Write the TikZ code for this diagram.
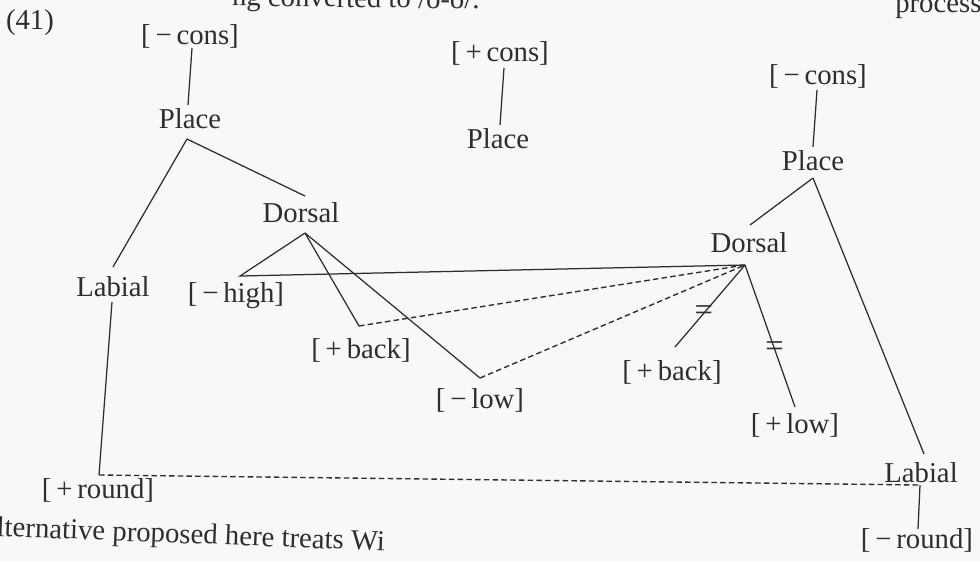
\documentclass[tikz,border=0pt]{standalone}
\usepackage{fontspec}
\setmainfont{Liberation Serif}
\definecolor{ink}{HTML}{2E2E2E}
\definecolor{paper}{HTML}{F8F8F6}
\begin{document}
\begin{tikzpicture}[x=0.4pt,y=-0.4pt,
  lbl/.style={inner sep=0pt,text=ink,font=\fontsize{11.5}{13}\selectfont},
  ln/.style={draw=ink,line width=0.5pt},
  dsh/.style={draw=ink,line width=0.55pt,dash pattern=on 2.2pt off 1.3pt},
  eqm/.style={inner sep=0pt,text=ink,font=\fontsize{13}{13}\selectfont}]
\useasboundingbox (0,0) rectangle (980,561);
\fill[paper] (0,0) rectangle (980,561);
% fragments of the surrounding page text
\node[lbl,anchor=base east,rotate=-0.8] (toptxt) at (480,9) {ng converted to /o-o/.};
\node[lbl,anchor=base east] (toptxt2) at (982,12) {process};
\node[lbl,anchor=base west,rotate=-2.2] (bottxt) at (-4,536) {lternative proposed here treats Wi};
% example number
\node[lbl] (n41) at (30,23) {(41)};
% left tree
\node[lbl] (lcons) at (190,36) {[\,−\,cons]};
\coordinate (lcons-b) at (192,48);
\node[lbl] (lplace) at (190,119) {Place};
\coordinate (lplace-t) at (188,105);
\coordinate (lplace-b) at (187,139);
\node[lbl] (ldors) at (301,213) {Dorsal};
\coordinate (ldors-t) at (305,196);
\coordinate (ldors-b) at (305,233);
\node[lbl] (llab) at (113,287) {Labial};
\coordinate (llab-t) at (113,267);
\coordinate (llab-b) at (112,302);
\node[lbl] (lhigh) at (236,296) {[\,−\,high]};
\coordinate (lhigh-v) at (240,276);
\node[lbl] (lback) at (361,350) {[\,+\,back]};
\coordinate (lback-v) at (359,326);
\node[lbl] (llow) at (480,400) {[\,−\,low]};
\coordinate (llow-v) at (480,378);
\node[lbl] (lround) at (98,490) {[\,+\,round]};
\coordinate (lround-v) at (99,475);
% middle tree
\node[lbl] (mcons) at (500,53) {[\,+\,cons]};
\coordinate (mcons-b) at (504,68);
\node[lbl] (mplace) at (498,139) {Place};
\coordinate (mplace-t) at (500,125);
% right tree
\node[lbl] (rcons) at (818,76) {[\,−\,cons]};
\coordinate (rcons-b) at (817,90);
\node[lbl] (rplace) at (813,161) {Place};
\coordinate (rplace-t) at (813,147);
\coordinate (rplace-b) at (813,178);
\node[lbl] (rdors) at (749,243) {Dorsal};
\coordinate (rdors-t) at (750,225);
\coordinate (rdors-b) at (745,265);
\node[lbl] (rback) at (672,372) {[\,+\,back]};
\coordinate (rback-v) at (675,347);
\node[lbl] (rlow) at (795,425) {[\,+\,low]};
\coordinate (rlow-v) at (795,407);
\node[lbl] (rlab) at (921,473) {Labial};
\coordinate (rlab-t) at (924,454);
\coordinate (rlab-c) at (920,485);
\node[lbl] (rround) at (917,540) {[\,−\,round]};
\coordinate (rround-t) at (918,529);
% connectors
\draw[ln] (lcons-b) -- (lplace-t);
\draw[ln] (lplace-b) -- (ldors-t);
\draw[ln] (lplace-b) -- (llab-t);
\draw[ln] (llab-b) -- (lround-v);
\draw[ln] (ldors-b) -- (lhigh-v) -- (rdors-b);
\draw[ln] (ldors-b) -- (lback-v);
\draw[ln] (ldors-b) -- (llow-v);
\draw[dsh] (lback-v) -- (rdors-b);
\draw[dsh] (llow-v) -- (rdors-b);
\draw[dsh] (lround-v) -- (rlab-c);
\draw[ln] (rlab-c) -- (rround-t);
\draw[ln] (mcons-b) -- (mplace-t);
\draw[ln] (rcons-b) -- (rplace-t);
\draw[ln] (rplace-b) -- (rdors-t);
\draw[ln] (rplace-b) -- (rlab-t);
\draw[ln] (rdors-b) -- node[eqm,pos=0.59] (eq1) {=} (rback-v);
\draw[ln] (rdors-b) -- node[eqm,pos=0.59] (eq2) {=} (rlow-v);
\end{tikzpicture}
\end{document}
